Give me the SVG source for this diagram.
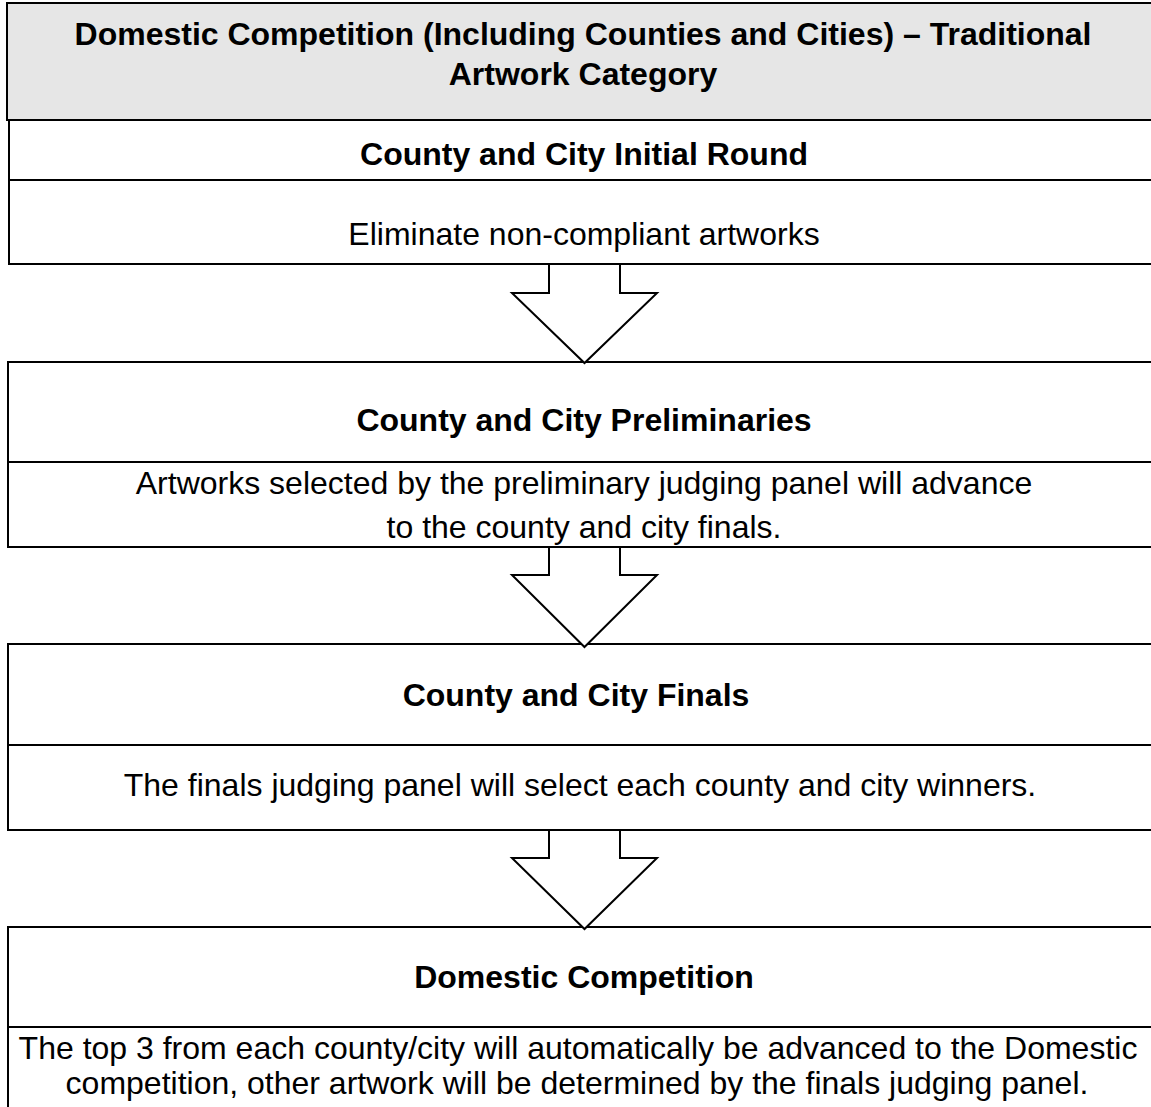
<svg xmlns="http://www.w3.org/2000/svg" width="1151" height="1107" viewBox="0 0 1151 1107">
<style>
.box{fill:#ffffff;stroke:#000000;stroke-width:2}
.title{fill:#e6e6e6;stroke:#000000;stroke-width:2}
.div{stroke:#000000;stroke-width:2}
.arrow{fill:#ffffff;stroke:#000000;stroke-width:2;stroke-linejoin:miter}
text{font-family:"Liberation Sans",Arial,sans-serif;font-size:32px;fill:#000000;text-anchor:middle}
.b{font-weight:bold}
</style>
<rect width="1151" height="1107" fill="#ffffff"/>
<g id="title-node">
<rect class="title" x="7" y="3" width="1200" height="117"/>
<text class="b" x="583" y="45">Domestic Competition (Including Counties and Cities) – Traditional</text>
<text class="b" x="583" y="85">Artwork Category</text>
</g>
<g id="initial-round">
<rect class="box" x="9" y="120" width="1200" height="144"/>
<line class="div" x1="9" y1="180" x2="1160" y2="180"/>
<text class="b" x="584" y="165">County and City Initial Round</text>
<text x="584" y="245">Eliminate non-compliant artworks</text>
</g>
<g id="preliminaries">
<rect class="box" x="8" y="362" width="1200" height="185"/>
<line class="div" x1="8" y1="462" x2="1160" y2="462"/>
<text class="b" x="584" y="431">County and City Preliminaries</text>
<text x="584" y="494">Artworks selected by the preliminary judging panel will advance</text>
<text x="584" y="538">to the county and city finals.</text>
</g>
<g id="finals">
<rect class="box" x="8" y="644" width="1200" height="186"/>
<line class="div" x1="8" y1="745" x2="1160" y2="745"/>
<text class="b" x="576" y="706">County and City Finals</text>
<text x="580" y="796">The finals judging panel will select each county and city winners.</text>
</g>
<g id="domestic">
<rect class="box" x="8" y="927" width="1200" height="220"/>
<line class="div" x1="8" y1="1027" x2="1160" y2="1027"/>
<text class="b" x="584" y="988">Domestic Competition</text>
<text x="578" y="1059">The top 3 from each county/city will automatically be advanced to the Domestic</text>
<text x="577" y="1094">competition, other artwork will be determined by the finals judging panel.</text>
</g>
<g id="connectors">
<polygon class="arrow" points="549,264 549,293 512,293 584.5,363 657,293 620,293 620,264"/>
<polygon class="arrow" points="549,547 549,575 512,575 584.5,647 657,575 620,575 620,547"/>
<polygon class="arrow" points="549,830 549,858 512,858 584.5,929 657,858 620,858 620,830"/>
</g>
</svg>
